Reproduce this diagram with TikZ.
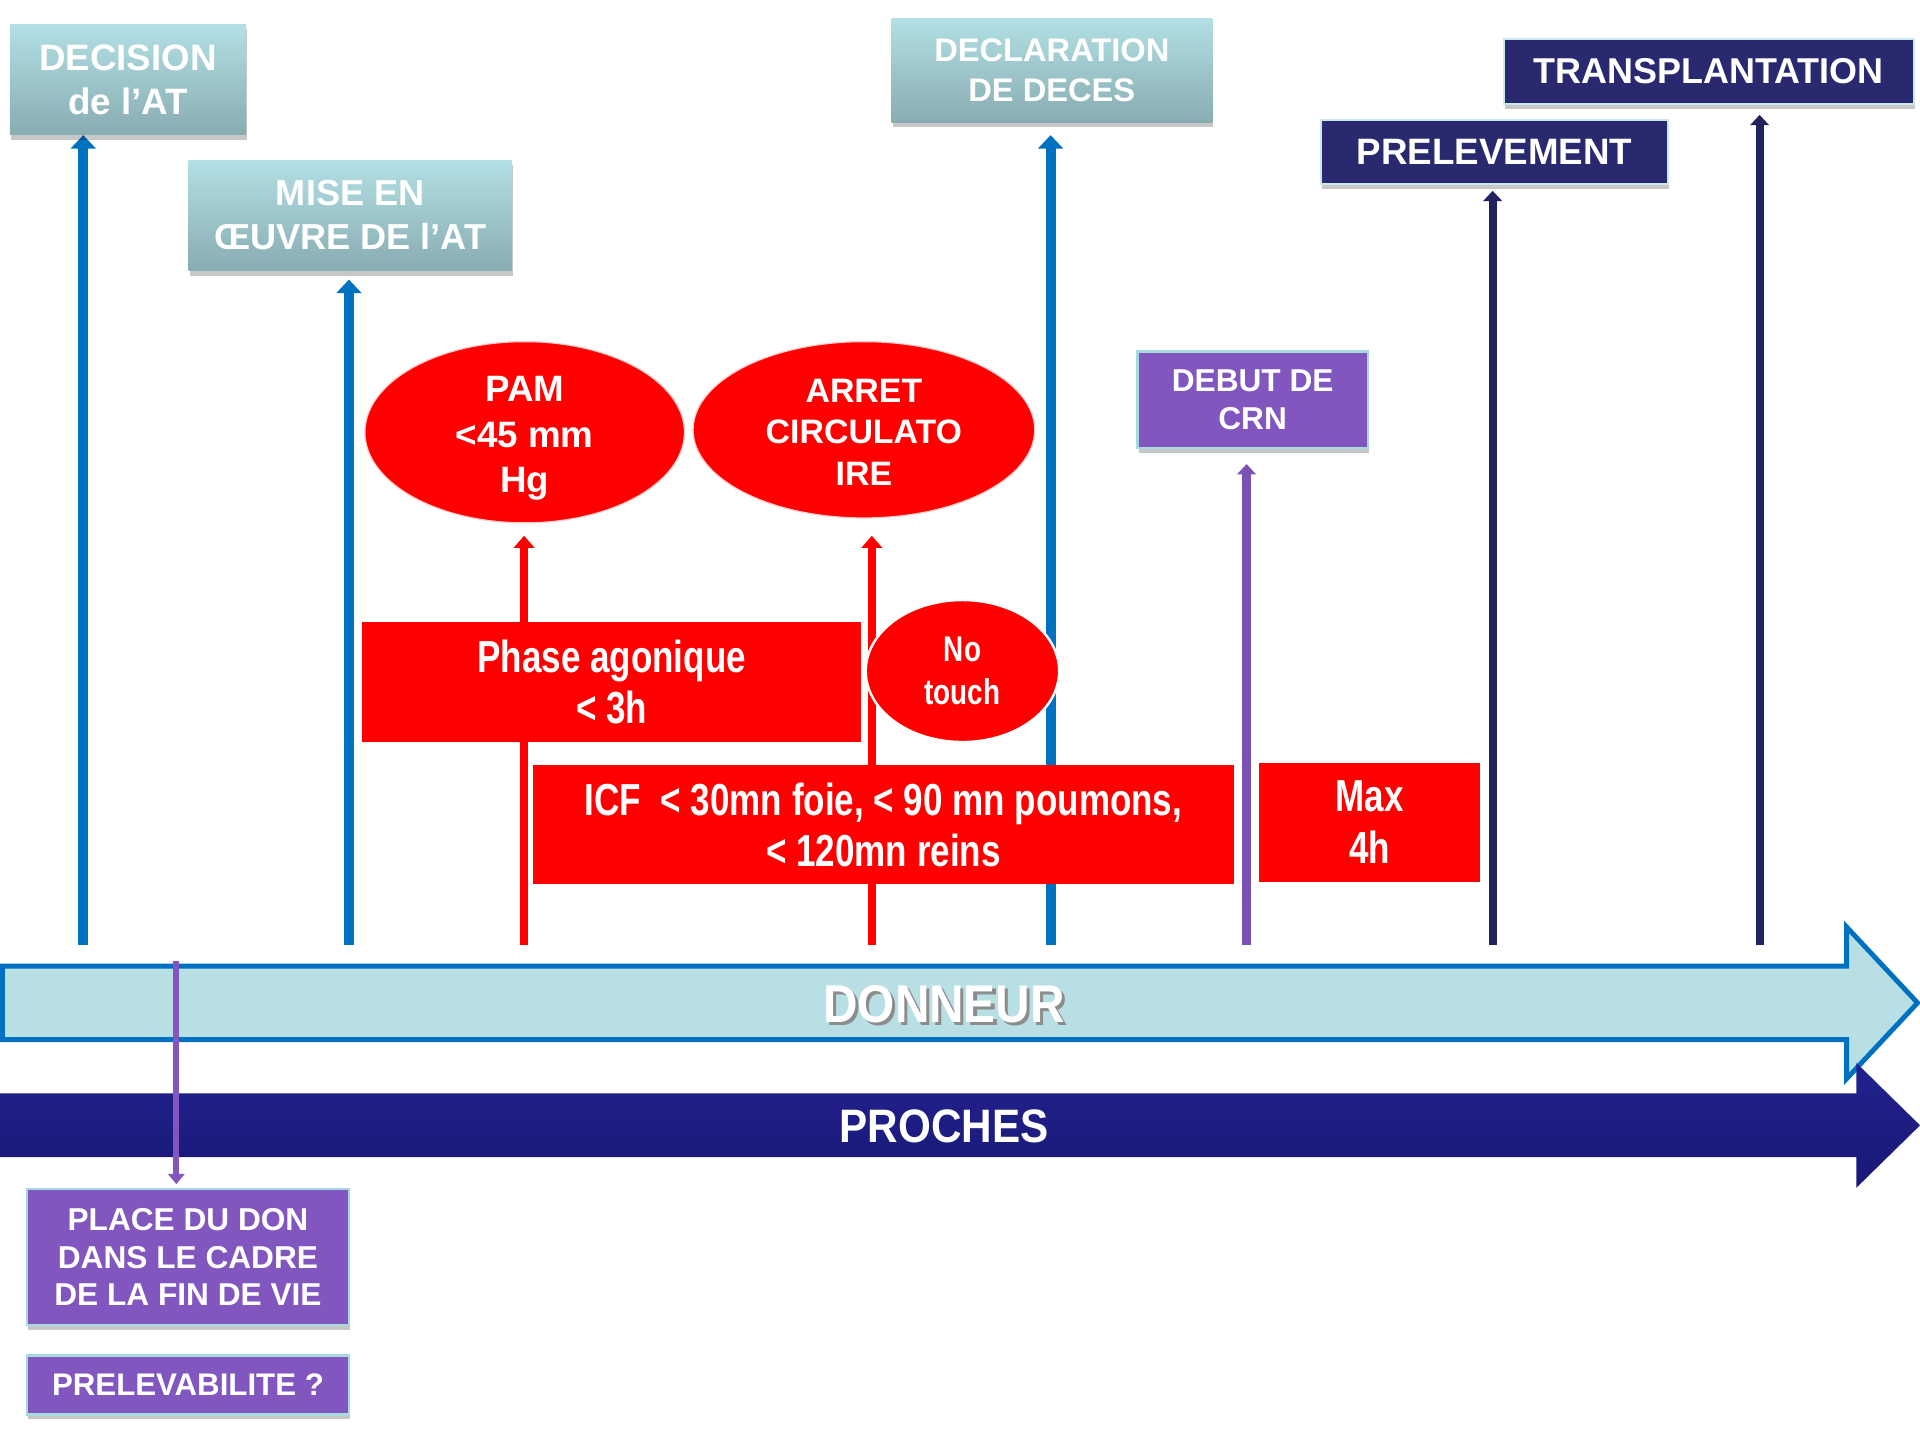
\documentclass[tikz,border=0pt]{standalone}
\usepackage{fontspec}
\setmainfont{Liberation Sans}
\newfontfamily\narrowA{Liberation Sans}[FakeStretch=0.78]
\newfontfamily\narrowB{Liberation Sans}[FakeStretch=0.9]
\usetikzlibrary{shapes.geometric,arrows.meta,shadows}
\definecolor{tealtop}{HTML}{B2E0E4}
\definecolor{tealbot}{HTML}{88ACB1}
\definecolor{arrowblue}{HTML}{0070C0}
\definecolor{navy}{HTML}{29296F}
\definecolor{navyarrow}{HTML}{22225E}
\definecolor{purp}{HTML}{8156BF}
\definecolor{purparrow}{HTML}{7A52B5}
\definecolor{donfill}{HTML}{B8E0E4}
\definecolor{proctop}{HTML}{22228F}
\definecolor{procbot}{HTML}{181876}
\definecolor{boxedge}{HTML}{A6DADF}
\definecolor{redc}{HTML}{FF0000}
\pgfdeclarelayer{bg}
\pgfsetlayers{bg,main}
\tikzset{
  boxshadow/.style={drop shadow={shadow xshift=0.6pt, shadow yshift=-2.4pt, opacity=0.22, fill=black}},
  basebox/.style={rectangle, inner sep=0pt, align=center, text=white, font=\bfseries},
  tealbox/.style={basebox, top color=tealtop, bottom color=tealbot, boxshadow},
  navybox/.style={basebox, fill=navy, draw=boxedge!60!white, line width=1pt, boxshadow},
  purpbox/.style={basebox, fill=purp, draw=boxedge, line width=1.2pt, boxshadow},
  redbox/.style={basebox, fill=redc, font=\narrowA\bfseries\fontsize{22}{25.2}\selectfont},
  redell/.style={ellipse, inner sep=0pt, align=center, text=white, fill=redc, draw=white!80!redc, line width=0.6pt},
  bluearrow/.style={draw=arrowblue, line width=4.8pt, -{Triangle[width=12pt,length=6.6pt]}},
  redarrow/.style={draw=redc, line width=4.2pt, -{Triangle[width=10pt,length=6pt]}},
  navyarrowst/.style={draw=navyarrow, line width=4pt, -{Triangle[width=9pt,length=5pt]}},
  purparrowst/.style={draw=purparrow, line width=4pt, -{Triangle[width=9pt,length=5pt]}},
  downarrow/.style={draw=purp, line width=3pt, -{Triangle[width=8pt,length=5pt]}},
}
\begin{document}
\begin{tikzpicture}[x=0.6pt,y=-0.6pt]
\useasboundingbox (0,0) rectangle (1568,1176);

% top boxes
\node[tealbox, minimum width=193*0.6pt, minimum height=90*0.6pt,
  font=\bfseries\fontsize{18}{21.6}\selectfont] (decision) at (104.5,65) {DECISION\\de l’AT};
\node[tealbox, minimum width=264*0.6pt, minimum height=90*0.6pt,
  font=\bfseries\fontsize{17.7}{21.6}\selectfont] (mise) at (286,176) {MISE EN\\ŒUVRE DE l’AT};
\node[tealbox, minimum width=262*0.6pt, minimum height=85*0.6pt,
  font=\bfseries\fontsize{16}{19.8}\selectfont] (decl) at (859,57.5) {DECLARATION\\DE DECES};
\node[navybox, minimum width=335*0.6pt, minimum height=53*0.6pt,
  font=\bfseries\fontsize{17.6}{21}\selectfont] (transp) at (1395.5,58.5) {TRANSPLANTATION};
\node[navybox, minimum width=283*0.6pt, minimum height=52*0.6pt,
  font=\bfseries\fontsize{18}{21}\selectfont] (prelev) at (1220.5,124) {PRELEVEMENT};
\node[purpbox, minimum width=188*0.6pt, minimum height=79*0.6pt,
  font=\bfseries\fontsize{15.5}{18.6}\selectfont] (debut) at (1023,326.5) {DEBUT DE\\CRN};

% red shapes
\node[redell, minimum width=261*0.6pt, minimum height=148*0.6pt] (pam) at (428.5,353) {};
\node[align=center, text=white, inner sep=0pt,
  font=\bfseries\fontsize{18}{22.2}\selectfont] (pamtxt) at (428.5,358) {PAM\\<45 mm\\Hg};
\node[redell, minimum width=279*0.6pt, minimum height=144*0.6pt] (arret) at (705.5,351) {};
\node[align=center, text=white, inner sep=0pt,
  font=\bfseries\fontsize{16.6}{20.4}\selectfont] (arrettxt) at (705.5,353) {ARRET\\CIRCULATO\\IRE};
\node[redbox, minimum width=407*0.6pt, minimum height=98*0.6pt,
  font=\narrowA\bfseries\fontsize{22}{24.6}\selectfont] (phase) at (499.5,557) {Phase agonique\\< 3h};
\node[redell, draw=white, line width=1.2pt, minimum width=158*0.6pt, minimum height=116*0.6pt,
  font=\narrowA\bfseries\fontsize{17.5}{21}\selectfont] (notouch) at (786,548) {No\\touch};
\node[redbox, minimum width=573*0.6pt, minimum height=97*0.6pt] (icf) at (721.5,673.5)
  {ICF~ < 30mn foie, < 90 mn poumons,\\< 120mn reins};
\node[redbox, minimum width=181*0.6pt, minimum height=97*0.6pt] (maxb) at (1118.5,671.5) {Max\\4h};

% bottom boxes
\node[purpbox, minimum width=263*0.6pt, minimum height=111*0.6pt,
  font=\bfseries\fontsize{15.5}{18.6}\selectfont] (place) at (153.5,1026.5) {PLACE DU DON\\DANS LE CADRE\\DE LA FIN DE VIE};
\node[purpbox, minimum width=263*0.6pt, minimum height=48*0.6pt,
  font=\bfseries\fontsize{15.3}{18}\selectfont] (prelevab) at (153.5,1131) {PRELEVABILITE ?};

% vertical arrows (behind)
\coordinate (s1) at (68,772);
\coordinate (s2) at (285,772);
\coordinate (s3) at (428,772);
\coordinate (s4) at (712,772);
\coordinate (s5) at (858,772);
\coordinate (s6) at (1018,772);
\coordinate (s7) at (1219,772);
\coordinate (s8) at (1437,772);
\begin{pgfonlayer}{bg}
\fill[white] (0,0) rectangle (1568,1176);
\draw[bluearrow] (s1) -- (s1 |- decision.south);
\draw[bluearrow, shorten >=4.2pt] (s2) -- (s2 |- mise.south);
\draw[redarrow, shorten >=6pt] (s3) -- (s3 |- pam.south);
\draw[redarrow, shorten >=8.4pt] (s4) -- (s4 |- arret.south);
\draw[bluearrow, shorten >=6pt] (s5) -- (s5 |- decl.south);
\draw[purparrowst, shorten >=7.2pt] (s6) -- (s6 |- debut.south);
\draw[navyarrowst, shorten >=3pt] (s7) -- (s7 |- prelev.south);
\draw[navyarrowst, shorten >=4.8pt] (s8) -- (s8 |- transp.south);
\end{pgfonlayer}

% big timeline arrows
\draw[fill=donfill, draw=arrowblue, line width=2.4pt, line join=miter]
  (2,789) -- (1508,789) -- (1508,757) -- (1566,819) -- (1508,881) -- (1508,849) -- (2,849) -- cycle;
\node[text=black!45, font=\narrowB\bfseries\fontsize{26}{30}\selectfont] at (773.5,822.5) {DONNEUR};
\node[text=white, font=\narrowB\bfseries\fontsize{26}{30}\selectfont] (donneur) at (771,820) {DONNEUR};

\shade[top color=proctop, bottom color=procbot]
  (0,893) -- (1516,893) -- (1516,868) -- (1568,919) -- (1516,970) -- (1516,945) -- (0,945) -- cycle;
\node[text=white, font=\narrowB\bfseries\fontsize{23}{27}\selectfont] (proches) at (771,920) {PROCHES};

% purple link down to the box
\coordinate (s9) at (144,785);
\draw[downarrow, shorten >=1.8pt] (s9) -- (s9 |- place.north);
\end{tikzpicture}
\end{document}
